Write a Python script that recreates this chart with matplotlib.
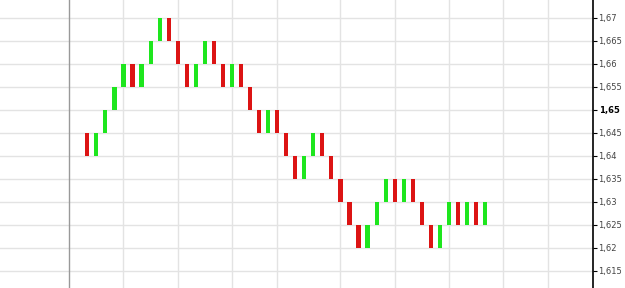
import numpy as np
import matplotlib.pyplot as plt

# brick open/close prices left to right
opens = [1.645, 1.640, 1.645, 1.650, 1.655, 1.660, 1.655, 1.660, 1.665, 1.670,
         1.665, 1.660, 1.655, 1.660, 1.665, 1.660, 1.655, 1.660, 1.655, 1.650,
         1.645, 1.650, 1.645, 1.640, 1.635, 1.640, 1.645, 1.640, 1.635, 1.630,
         1.625, 1.620, 1.625, 1.630, 1.635, 1.630, 1.635, 1.630, 1.625, 1.620,
         1.625, 1.630, 1.625, 1.630, 1.625]
closes = [1.640, 1.645, 1.650, 1.655, 1.660, 1.655, 1.660, 1.665, 1.670, 1.665,
          1.660, 1.655, 1.660, 1.665, 1.660, 1.655, 1.660, 1.655, 1.650, 1.645,
          1.650, 1.645, 1.640, 1.635, 1.640, 1.645, 1.640, 1.635, 1.630, 1.625,
          1.620, 1.625, 1.630, 1.635, 1.630, 1.635, 1.630, 1.625, 1.620, 1.625,
          1.630, 1.625, 1.630, 1.625, 1.630]
price_ticks = [1.615, 1.62, 1.625, 1.63, 1.635, 1.64, 1.645, 1.65, 1.655, 1.66, 1.665, 1.67]
time_grid = [4, 10, 16, 21, 28, 34, 40, 46, 51]

fig = plt.figure(figsize=(6.25, 2.88), dpi=100)
ax = fig.add_axes([0, 0, 593 / 625, 1])

x = np.arange(len(opens))
lo = np.minimum(opens, closes)
hi = np.maximum(opens, closes)
colors = ['#1ee61e' if c > o else '#dc1414' for o, c in zip(opens, closes)]
ax.bar(x, hi - lo, bottom=lo, width=0.46, color=colors, zorder=3)

ax.set_xlim(-9.66, 55.94)
ax.set_ylim(1.6113, 1.6739)

for p in price_ticks + [1.61, 1.675]:
    ax.axhline(p, color='#e3e3e3', lw=1, zorder=1)
for t in time_grid:
    ax.axvline(t, color='#e3e3e3', lw=1, zorder=1)
ax.axvline(-2, color='#999999', lw=1, zorder=2)

for s in ['top', 'bottom', 'left']:
    ax.spines[s].set_visible(False)
ax.spines['right'].set_color('black')
ax.spines['right'].set_linewidth(1.2)
ax.set_xticks([])
ax.yaxis.tick_right()
ax.set_yticks(price_ticks)
ax.set_yticklabels([('%g' % p).replace('.', ',') for p in price_ticks])
ax.tick_params(axis='y', length=3, width=0.8, pad=1, labelsize=6, labelcolor='#444444')
for lab in ax.get_yticklabels():
    if lab.get_text() == '1,65':
        lab.set_fontweight('bold')
        lab.set_color('black')

fig.savefig('out.png', dpi=100)
